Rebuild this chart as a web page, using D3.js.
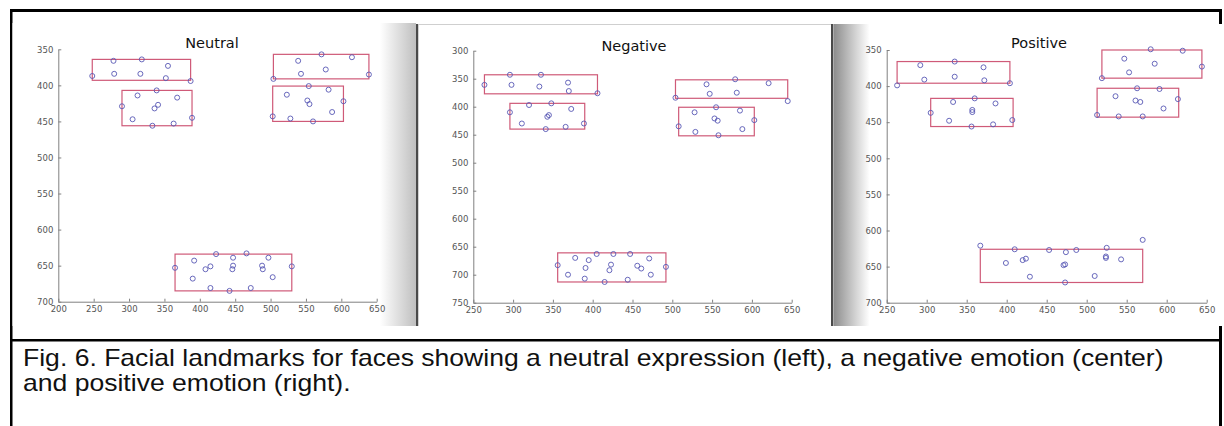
<!DOCTYPE html>
<html>
<head>
<meta charset="utf-8">
<script src="https://cdn.jsdelivr.net/npm/d3@7"></script>
<style>
	body { margin: 0; background: #fff; }
	svg { display: block; }
	.axis path, .axis line { stroke: #808080; stroke-width: 1; }
	.axis text { font-family: "DejaVu Sans", sans-serif; font-size: 8.5px; fill: #555; }
	.title { font-family: "DejaVu Sans", sans-serif; font-size: 14.5px; fill: #111; }
	.caption { font-family: "Liberation Sans", Arial, sans-serif; font-size: 23px; fill: #111; }
</style>
</head>
<body>
<svg id="fig" width="1224" height="426"></svg>
<script>
// landmark positions [x, y]
var neutralPoints = [
	[248,387],[278,366],[318,364],[355,373],[279,384],[316,384],[352,390],[387,394],
	[290,429],[312,414],[339,407],[368,417],[341,427],[336,432],[305,447],[333,456],[363,453],[389,445],
	[504,391],[539,366],[572,357],[615,361],[543,384],[578,378],[639,385],
	[503,443],[523,413],[554,401],[582,406],[603,422],[552,421],[555,426],[587,437],[528,446],[560,450],
	[365,653],[392,643],[408,655],[415,651],[423,634],[447,639],[447,650],[446,655],[466,633],
	[488,650],[489,655],[497,639],[530,651],[503,666],[390,668],[415,681],[442,685],[472,681]
];
var negativePoints = [
	[264,361],[296,343],[298,361],[335,343],[333,364],[369,357],[370,372],[406,376],
	[296,410],[320,397],[348,394],[373,404],[345,415],[343,418],[311,430],[341,440],[366,436],[389,430],
	[504,384],[543,360],[579,351],[621,358],[547,377],[581,375],[645,390],
	[508,435],[528,410],[555,401],[585,407],[603,424],[553,421],[557,425],[588,440],[529,445],[558,451],
	[356,683],[378,670],[395,674],[405,663],[426,663],[447,663],[423,682],[421,692],[391,688],
	[369,700],[390,707],[415,713],[444,709],[456,684],[461,689],[471,671],[473,700],[492,686]
];
var positivePoints = [
	[263,399],[292,371],[335,366],[371,374],[297,391],[335,387],[372,392],[404,396],
	[305,437],[333,422],[360,417],[386,424],[357,433],[357,436],[328,448],[356,456],[383,453],[407,447],
	[519,389],[547,362],[580,349],[620,351],[553,381],[585,369],[644,373],
	[513,440],[536,414],[563,403],[591,404],[614,418],[561,420],[567,422],[596,431],[540,442],[570,442],
	[367,621],[410,626],[399,645],[420,641],[424,639],[429,664],[453,627],[474,630],[473,647],
	[471,648],[473,672],[487,627],[510,663],[524,636],[524,638],[525,624],[543,640],[570,613]
];

// boxes [x0, y0, x1, y1] round each landmark group
var neutralBoxes = [[248,364,387,393],[290,407,389,456],[504,357,639,391],[503,401,603,450],[365,634,530,685]];
var negativeBoxes = [[264,343,406,377],[296,394,390,440],[504,352,645,385],[508,401,603,452],[356,661,492,713]];
var positiveBoxes = [[263,366,404,396],[305,417,408,456],[519,350,644,389],[513,403,615,443],[367,626,570,672]];

var titles = ["Neutral", "Negative", "Positive"];
var neutralXTicks = [200,250,300,350,400,450,500,550,600,650];
var neutralYTicks = [350,400,450,500,550,600,650,700];
var negativeXTicks = [250,300,350,400,450,500,550,600,650];
var negativeYTicks = [300,350,400,450,500,550,600,650,700,750];
var positiveXTicks = [250,300,350,400,450,500,550,600,650];
var positiveYTicks = [350,400,450,500,550,600,650,700];

var captionLines = [
	"Fig. 6. Facial landmarks for faces showing a neutral expression (left), a negative emotion (center)",
	"and positive emotion (right)."
];

var svg = d3.select("#fig");

var defs = svg.append("defs");
function gradient(id, from, to) {
	var grad = defs.append("linearGradient").attr("id", id);
	grad.append("stop").attr("offset", "0%").attr("stop-color", from);
	grad.append("stop").attr("offset", "100%").attr("stop-color", to);
}
gradient("shadeRight", "#ffffff", "#bfbfbf");
gradient("shadeLeft", "#8c8c8c", "#ffffff");

// frame
svg.append("rect").attr("x", 10).attr("y", 9).attr("width", 1212).attr("height", 3).attr("fill", "#000");
svg.append("rect").attr("x", 10).attr("y", 9).attr("width", 2.5).attr("height", 417).attr("fill", "#000");
svg.append("rect").attr("x", 1219).attr("y", 9).attr("width", 3).attr("height", 417).attr("fill", "#000");
svg.append("rect").attr("x", 10).attr("y", 339).attr("width", 1212).attr("height", 2.5).attr("fill", "#000");

// the three screenshots
svg.append("rect").attr("x", 12.5).attr("y", 23).attr("width", 404).attr("height", 303).attr("fill", "#fff");
svg.append("rect").attr("x", 380).attr("y", 23).attr("width", 36).attr("height", 303).attr("fill", "url(#shadeRight)");
svg.append("rect").attr("x", 416).attr("y", 24).attr("width", 2.5).attr("height", 302).attr("fill", "#4a4a4a");
svg.append("rect").attr("x", 418.5).attr("y", 24).attr("width", 412.5).attr("height", 302).attr("fill", "#fff");
svg.append("line").attr("x1", 418.5).attr("x2", 831).attr("y1", 24.5).attr("y2", 24.5).attr("stroke", "#cfcfcf");
svg.append("rect").attr("x", 831).attr("y", 24).attr("width", 2.5).attr("height", 302).attr("fill", "#4a4a4a");
svg.append("rect").attr("x", 833.5).attr("y", 24).attr("width", 390.5).attr("height", 302).attr("fill", "#fff");
svg.append("rect").attr("x", 833.5).attr("y", 24).attr("width", 36).attr("height", 302).attr("fill", "url(#shadeLeft)");

var panels = [
	{title: titles[0], points: neutralPoints, boxes: neutralBoxes, xTicks: neutralXTicks, yTicks: neutralYTicks,
		left: 58.3, right: 376.7, top: 49.3, bottom: 301.7, titleX: 212, titleY: 47.5},
	{title: titles[1], points: negativePoints, boxes: negativeBoxes, xTicks: negativeXTicks, yTicks: negativeYTicks,
		left: 473.3, right: 791.7, top: 50.7, bottom: 302.7, titleX: 634, titleY: 50.5},
	{title: titles[2], points: positivePoints, boxes: positiveBoxes, xTicks: positiveXTicks, yTicks: positiveYTicks,
		left: 886.7, right: 1206.7, top: 50, bottom: 302.7, titleX: 1039, titleY: 48.3}
];

function drawPanel(p) {
	var x = d3.scaleLinear().domain(d3.extent(p.xTicks)).range([p.left, p.right]);
	// image coordinates: y grows downwards
	var y = d3.scaleLinear().domain(d3.extent(p.yTicks)).range([p.top, p.bottom]);
	var g = svg.append("g");

	g.append("g")
		.attr("class", "axis")
		.attr("transform", "translate(0," + p.bottom + ")")
		.call(d3.axisBottom(x).tickValues(p.xTicks).tickFormat(d3.format("d"))
			.tickSizeInner(-3).tickSizeOuter(0).tickPadding(4));

	g.append("g")
		.attr("class", "axis")
		.attr("transform", "translate(" + p.left + ",0)")
		.call(d3.axisLeft(y).tickValues(p.yTicks).tickFormat(d3.format("d"))
			.tickSizeInner(-3).tickSizeOuter(0).tickPadding(5));

	g.selectAll("rect.box")
		.data(p.boxes)
		.enter().append("rect")
		.attr("class", "box")
		.attr("x", function(d) { return x(d[0]); })
		.attr("y", function(d) { return y(d[1]); })
		.attr("width", function(d) { return x(d[2]) - x(d[0]); })
		.attr("height", function(d) { return y(d[3]) - y(d[1]); })
		.style("fill", "none")
		.style("stroke", "#cf5a78")
		.style("stroke-width", 1.2);

	g.selectAll("circle.mark")
		.data(p.points)
		.enter().append("circle")
		.attr("class", "mark")
		.attr("cx", function(d) { return x(d[0]); })
		.attr("cy", function(d) { return y(d[1]); })
		.attr("r", 2.5)
		.style("fill", "none")
		.style("stroke", "#5858b4")
		.style("stroke-width", 0.9);

	g.append("text")
		.attr("class", "title")
		.attr("x", p.titleX)
		.attr("y", p.titleY)
		.attr("text-anchor", "middle")
		.text(p.title);
}

panels.forEach(drawPanel);

// caption text in the scan is a bit wider than plain Arial
svg.append("g")
	.attr("transform", "translate(23,0) scale(1.155,1)")
	.selectAll("text.caption")
	.data(captionLines)
	.enter().append("text")
	.attr("class", "caption")
	.attr("x", 0)
	.attr("y", function(d, i) { return 366 + i * 25; })
	.text(function(d) { return d; });
</script>
</body>
</html>
